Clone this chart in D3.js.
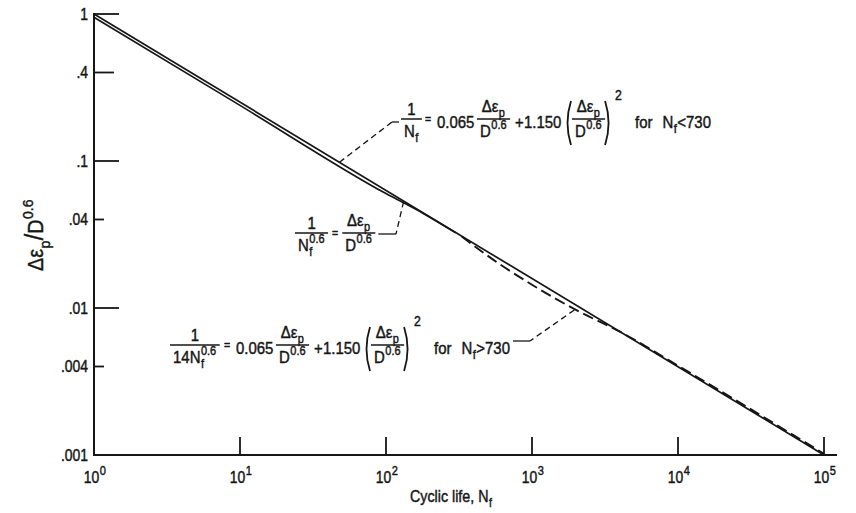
<!DOCTYPE html>
<html><head><meta charset="utf-8">
<script src="https://cdn.jsdelivr.net/npm/d3@7"></script>
<style>
html,body{margin:0;padding:0;background:#fff;}
svg text{font-family:"Liberation Sans",Arial,sans-serif;fill:#161616;stroke:#161616;stroke-width:0.45px;}
</style></head><body>
<svg id="c" width="856" height="513"></svg>
<script>
// ---- data ----
const xTickValues = [1, 10, 100, 1000, 10000, 100000];
const xTickExponents = ["0", "1", "2", "3", "4", "5"];
const yTickValues = [1, 0.4, 0.1, 0.04, 0.01, 0.004, 0.001];
const yTickLabels = ["1", ".4", ".1", ".04", ".01", ".004", ".001"];

// straight line 1/Nf^0.6 = Δεp/D^0.6
const straightN = [1, 100000];
const straightD = [1, 0.001];
// solid curve for Nf < 730 (second stroke of the double line)
const lowN = [1, 10, 100, 180, 300];
const lowD = [0.95, 0.239, 0.0600, 0.0440, 0.0325];
// dashed curve for Nf > 730
const highN = [330, 600, 1000, 2000, 4000, 10000, 100000];
const highD = [0.0306, 0.0199, 0.0144, 0.0097, 0.0069, 0.00405, 0.00102];

// leader anchors (on the curves)
const ann1Anchor = [48, 0.098];
const ann2Anchor = [132, 0.053];
const ann3Anchor = [1950, 0.0097];

// ---- drawing ----
const svg = d3.select("#c");
const x = d3.scaleLog().domain([1, 100000]).range([94, 824]);
const y = d3.scaleLog().domain([0.001, 1]).range([455, 14]);
const INK = "#161616";
const FS = 17, SFS = 12.5, SX = 0.88;

function txt(g, x0, y0, s, fs, sx = SX) {
  const t = g.append("text").attr("transform", `translate(${x0},${y0}) scale(${sx},1)`)
    .attr("font-size", fs).text(s);
  return t.node().getComputedTextLength() * sx;
}
function addRun(g, x0, yb, items, fs = FS, sfs = SFS, sx = SX) {
  let cx = x0;
  for (const it of items) {
    if (it.t !== undefined) {
      cx += txt(g, cx, yb, it.t, it.fs || fs, sx);
    } else if (it.gap !== undefined) {
      cx += it.gap;
    } else {
      let w = 0;
      if (it.sub !== undefined) w = Math.max(w, txt(g, cx + 0.5, yb + fs * 0.3, it.sub, sfs, sx));
      if (it.sup !== undefined) w = Math.max(w, txt(g, cx + 0.5, yb - fs * 0.45, it.sup, sfs, sx));
      cx += w + 1;
    }
  }
  return cx - x0;
}

// axes
svg.append("line").attr("x1", x(1)).attr("x2", x(1)).attr("y1", y(1) - 1).attr("y2", y(0.001) + 1)
  .attr("stroke", INK).attr("stroke-width", 2);
svg.append("line").attr("x1", x(1) - 1).attr("x2", 837).attr("y1", y(0.001)).attr("y2", y(0.001))
  .attr("stroke", INK).attr("stroke-width", 2);

// y ticks
yTickValues.forEach((v, i) => {
  const major = Math.abs(Math.log10(v) - Math.round(Math.log10(v))) < 1e-9;
  const len = major ? 25 : (v > 0.2 ? 20 : 10);
  if (v > 0.001) {
    svg.append("line").attr("x1", x(1)).attr("x2", x(1) + len).attr("y1", y(v)).attr("y2", y(v))
      .attr("stroke", INK).attr("stroke-width", 1.8);
  }
  const g = svg.append("g");
  const w = addRun(g, 0, 0, [{ t: yTickLabels[i] }], FS, SFS, 0.82);
  g.attr("transform", `translate(${x(1) - 6 - w},${y(v) + 6})`);
});

// x ticks and labels
xTickValues.forEach((v, i) => {
  if (v > 1) {
    svg.append("line").attr("x1", x(v)).attr("x2", x(v)).attr("y1", y(0.001)).attr("y2", y(0.001) - 18)
      .attr("stroke", INK).attr("stroke-width", 1.8);
  }
  const g = svg.append("g");
  const w = addRun(g, 0, 0, [{ t: "10" }, { sup: xTickExponents[i] }], FS, 13.5, 0.82);
  g.attr("transform", `translate(${x(v) - w / 2 + 1},483)`);
});

// axis titles
{
  const g = svg.append("g");
  addRun(g, 0, 0, [{ t: "Cyclic life, N" }, { sub: "f" }], FS, SFS, 0.84);
  g.attr("transform", "translate(410,502)");
}
{
  const g = svg.append("g");
  const w = addRun(g, 0, 0, [{ t: "Δε" }, { sub: "p" }, { t: "/", fs: 26 }, { t: "D" }, { sup: "0.6" }], 22, 15.5, 0.9);
  g.attr("transform", `translate(43,${235 + w / 2}) rotate(-90)`);
}

// curves
const line = d3.line().x(d => x(d[0])).y(d => y(d[1]));
svg.append("path").datum(straightN.map((n, i) => [n, straightD[i]])).attr("d", line)
  .attr("fill", "none").attr("stroke", INK).attr("stroke-width", 1.7);
svg.append("path").datum(lowN.map((n, i) => [n, lowD[i]])).attr("d", line.curve(d3.curveMonotoneX))
  .attr("fill", "none").attr("stroke", INK).attr("stroke-width", 1.7);
svg.append("path").datum(highN.map((n, i) => [n, highD[i]])).attr("d", line.curve(d3.curveMonotoneX))
  .attr("fill", "none").attr("stroke", INK).attr("stroke-width", 1.9).attr("stroke-dasharray", "11,5");

// annotation helpers
function frac(g, x0, ybar, num, den) {
  const numSub = num.some(it => it.sub !== undefined);
  const gn = g.append("g"); const wn = addRun(gn, 0, ybar - (numSub ? 7 : 4), num);
  const gd = g.append("g"); const wd = addRun(gd, 0, ybar + 18, den);
  const w = Math.max(wn, wd) + 6;
  gn.attr("transform", `translate(${x0 + (w - wn) / 2},0)`);
  gd.attr("transform", `translate(${x0 + (w - wd) / 2},0)`);
  g.append("line").attr("x1", x0).attr("x2", x0 + w).attr("y1", ybar).attr("y2", ybar)
    .attr("stroke", INK).attr("stroke-width", 1.5);
  return w;
}
function paren(g, x0, ybar, left) {
  const t = ybar - 18, b = ybar + 26, m = ybar + 4;
  const d = left
    ? `M${x0 + 6},${t} Q${x0 - 1},${m} ${x0 + 6},${b}`
    : `M${x0},${t} Q${x0 + 7},${m} ${x0},${b}`;
  g.append("path").attr("d", d).attr("fill", "none").attr("stroke", INK).attr("stroke-width", 1.8);
  return 7;
}
// elements may carry an absolute x ("at"); otherwise they follow the previous one
function flow(x0, ybar, elems) {
  const g = svg.append("g");
  let cx = x0;
  for (const e of elems) {
    if (e.at !== undefined) cx = e.at;
    if (e.gap !== undefined) { cx += e.gap; continue; }
    if (e.frac) { cx += frac(g, cx, ybar, e.frac[0], e.frac[1]); continue; }
    if (e.paren) { cx += paren(g, cx, ybar, e.paren === "L"); continue; }
    if (e.run) { cx += addRun(g, cx, ybar + (e.dy !== undefined ? e.dy : 9), e.run); continue; }
  }
  return cx;
}
const DEP = [{ t: "Δε" }, { sub: "p" }];
const D06 = [{ t: "D" }, { sup: "0.6" }];
const EQ = { run: [{ t: "=", fs: 12 }], dy: 4 };
const TAIL = (o, rel) => [
  Object.assign({ at: o + 224 }, EQ),
  { at: o + 236, run: [{ t: "0.065" }] },
  { at: o + 276, frac: [DEP, D06] },
  { at: o + 314, run: [{ t: "+" }] },
  { at: o + 323, run: [{ t: "1.150" }] },
  { at: o + 364, paren: "L" }, { frac: [DEP, D06] }, { paren: "R" }, { gap: 3 },
  { run: [{ t: "2", fs: 14 }], dy: -19 },
  { at: o + 434, run: [{ t: "for" }, { gap: 10 }, { t: "N" }, { sub: "f" }, { t: rel }, { t: "730" }] }
];

flow(401, 119, [{ frac: [[{ t: "1" }], [{ t: "N" }, { sub: "f" }]] }].concat(TAIL(201, "<")));
const end2 = flow(295, 233, [
  { frac: [[{ t: "1" }], [{ t: "N" }, { sub: "f", sup: "0.6" }]] }, { gap: 4 },
  EQ, { gap: 4 },
  { frac: [DEP, D06] }
]);
const end3 = flow(170, 345, [{ frac: [[{ t: "1" }], [{ t: "14N" }, { sub: "f", sup: "0.6" }]] }].concat(TAIL(0, ">")));

// leaders
function leader(anchor, knee, endX) {
  const ax = x(anchor[0]), ay = y(anchor[1]);
  svg.append("path").attr("d", `M${ax},${ay} L${knee[0]},${knee[1]}`)
    .attr("fill", "none").attr("stroke", INK).attr("stroke-width", 1.3).attr("stroke-dasharray", "6,4");
  svg.append("line").attr("x1", knee[0]).attr("x2", endX).attr("y1", knee[1]).attr("y2", knee[1])
    .attr("stroke", INK).attr("stroke-width", 1.3);
}
leader(ann1Anchor, [392, 122], 399);
leader(ann2Anchor, [396, 234], end2 + 3);
leader(ann3Anchor, [530, 341], end3 + 3);
</script>
</body></html>
